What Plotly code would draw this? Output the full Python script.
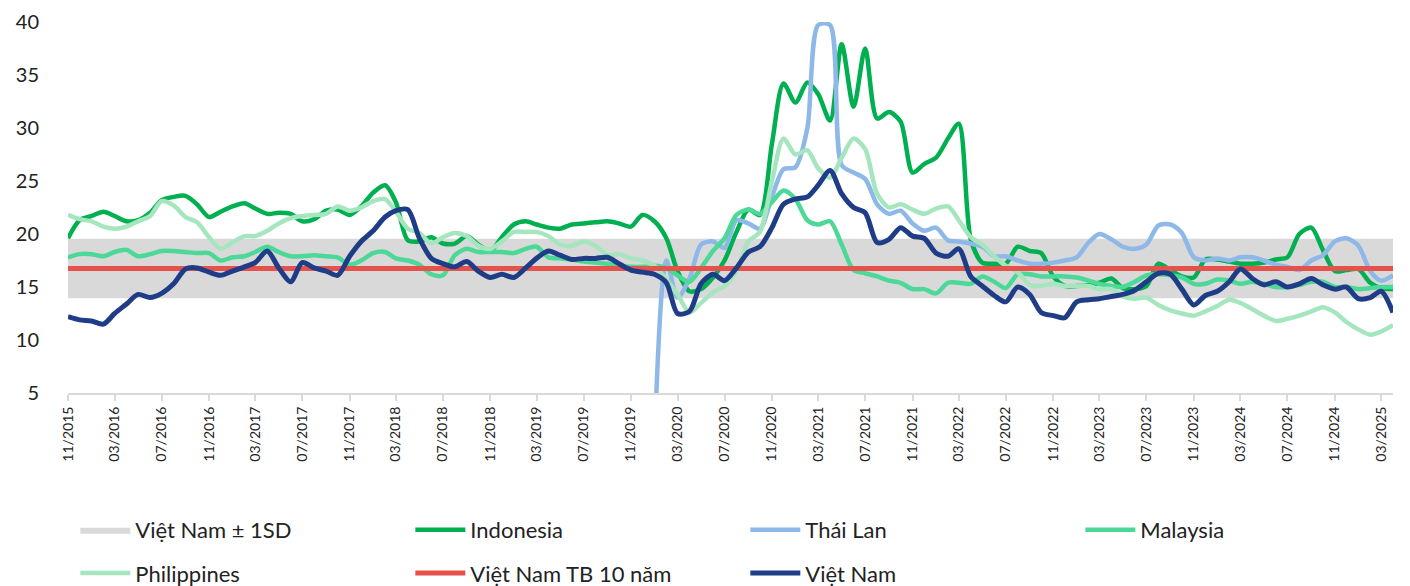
import pandas as pd
import plotly.graph_objects as go

dates = pd.date_range("2015-11-01", periods=114, freq="MS")

vietnam = [12.2, 11.9, 11.8, 11.5, 12.5, 13.4, 14.3, 14.0, 14.4, 15.3,
           16.7, 16.8, 16.4, 16.1, 16.5, 16.9, 17.3, 18.4, 16.8, 15.5,
           17.3, 16.8, 16.5, 16.1, 17.9, 19.3, 20.3, 21.6, 22.2, 22.3,
           19.6, 17.7, 17.2, 16.9, 17.4, 16.5, 15.9, 16.2, 15.9, 16.8,
           17.7, 18.4, 18.0, 17.6, 17.7, 17.7, 17.8, 17.2, 16.6, 16.4,
           16.2, 15.4, 12.5, 12.7, 15.3, 16.2, 15.6, 16.8, 18.3, 18.8,
           20.6, 22.8, 23.3, 23.5, 24.6, 26.0, 23.8, 22.5, 22.0, 19.2,
           19.5, 20.6, 19.8, 19.6, 18.2, 17.9, 18.6, 16.0, 15.1, 14.2,
           13.6, 15.0, 14.3, 12.6, 12.3, 12.1, 13.6, 13.8, 13.9, 14.1,
           14.3, 14.7, 15.5, 16.3, 16.2, 14.8, 13.3, 14.2, 14.6, 15.5,
           16.7, 15.8, 15.2, 15.5, 15.0, 15.3, 15.8, 15.2, 14.8, 15.0,
           13.9, 14.0, 14.6, 12.6]

indonesia = [19.6, 21.3, 21.7, 22.1, 21.7, 21.2, 21.3, 22.0, 23.2, 23.5,
             23.6, 22.8, 21.6, 22.1, 22.6, 22.9, 22.4, 21.9, 22.0, 21.9,
             21.2, 21.4, 22.2, 22.3, 21.8, 22.6, 23.9, 24.6, 23.0, 19.4,
             19.3, 19.7, 19.1, 19.1, 19.8, 19.0, 18.4, 19.7, 20.9, 21.2,
             20.9, 20.6, 20.5, 20.9, 21.0, 21.1, 21.2, 21.0, 20.7, 21.8,
             21.2, 19.6, 16.5, 14.6, 14.8, 15.9, 17.5, 20.2, 22.3, 21.8,
             28.5, 34.2, 32.4, 34.3, 33.2, 30.7, 37.9, 32.0, 37.5, 30.9,
             31.5, 30.6, 25.8, 26.6, 27.2, 29.0, 30.4, 19.5, 17.3, 17.2,
             17.2, 18.8, 18.4, 18.2, 16.0, 15.1, 15.1, 15.2, 15.4, 15.8,
             14.9, 14.8, 15.1, 17.2, 16.6, 16.0, 15.9, 17.6, 17.6, 17.4,
             17.2, 17.2, 17.3, 17.6, 17.8, 20.0, 20.6, 18.5, 16.5, 16.6,
             16.7, 15.4, 14.9, 14.8]

thailand = [None] * 50 + [
    0.0, 17.5, 14.0, 15.8, 19.0, 19.3, 18.7, 21.3, 21.0, 20.5,
    23.5, 26.1, 26.3, 30.0, 39.7, 39.7, 26.5, 25.8, 25.2, 22.8,
    21.9, 22.2, 21.0, 20.3, 20.6, 19.4, 19.3, 19.1, 18.8, 17.9,
    17.9, 17.5, 17.2, 17.2, 17.3, 17.5, 17.8, 19.2, 20.0, 19.5,
    18.8, 18.6, 19.0, 20.8, 20.9, 20.1, 17.8, 17.5, 17.7, 17.5,
    17.8, 17.8, 17.5, 17.1, 16.9, 16.6, 17.5, 18.0, 19.3, 19.6,
    18.9, 16.5, 15.6, 16.1]

malaysia = [17.8, 18.1, 18.1, 17.9, 18.3, 18.5, 17.9, 18.1, 18.4, 18.4,
            18.3, 18.2, 18.2, 17.5, 17.8, 17.9, 18.3, 18.8, 18.3, 17.9,
            17.9, 18.0, 17.9, 17.8, 17.1, 17.5, 18.2, 18.3, 17.7, 17.5,
            17.1, 16.2, 16.1, 18.0, 18.6, 18.3, 18.3, 18.3, 18.2, 18.6,
            18.8, 17.8, 17.7, 17.6, 17.4, 17.3, 17.2, 17.0, 16.9, 16.9,
            17.0, 16.8, 16.1, 15.5, 16.8, 18.4, 19.6, 21.8, 22.3, 21.9,
            23.0, 24.1, 23.3, 21.3, 20.9, 21.2, 19.0, 16.6, 16.3, 16.0,
            15.6, 15.4, 14.8, 14.8, 14.4, 15.4, 15.4, 15.3, 16.0, 15.5,
            14.9, 16.2, 16.2, 16.0, 16.0, 16.0, 15.9, 15.6, 15.3, 15.1,
            15.0, 15.5, 16.1, 16.2, 16.1, 15.9, 15.3, 15.3, 15.7, 15.6,
            15.3, 15.5, 15.3, 15.0, 15.0, 15.2, 15.5, 15.5, 15.0, 15.0,
            14.8, 14.9, 15.0, 15.0]

philippines = [21.8, 21.4, 21.2, 20.7, 20.5, 20.7, 21.2, 21.7, 23.1, 22.7,
               21.6, 21.1, 19.7, 18.6, 19.2, 19.8, 19.8, 20.3, 21.0, 21.5,
               21.7, 21.8, 21.9, 22.6, 22.2, 22.5, 23.1, 23.3, 22.1, 20.5,
               20.1, 19.1, 19.7, 20.1, 19.8, 18.9, 18.6, 19.3, 20.2, 20.2,
               20.2, 19.8, 19.0, 18.9, 19.3, 18.9, 18.0, 18.1, 17.7, 17.5,
               17.0, 15.7, 14.3, 12.6, 13.5, 14.5, 15.1, 16.5, 19.3, 20.2,
               25.0, 29.0, 27.5, 27.9, 26.2, 25.3, 27.2, 29.0, 28.0, 23.8,
               22.5, 22.8, 22.3, 21.9, 22.4, 22.6, 21.3, 19.7, 19.0, 17.9,
               17.0, 16.4, 15.2, 15.1, 15.3, 15.1, 15.1, 15.1, 14.8, 14.8,
               14.1, 13.9, 14.0, 13.3, 12.8, 12.5, 12.3, 12.7, 13.2, 13.8,
               13.5, 12.9, 12.3, 11.8, 12.0, 12.3, 12.7, 13.1, 12.6, 11.7,
               11.0, 10.5, 10.8, 11.4]

vn_mean_10y = 16.75
vn_sd = 2.8

tick_dates = dates[::4]
tick_labels = [d.strftime("%m/%Y") for d in tick_dates]

FONT = "Lato"
TXT = "#222222"
fig = go.Figure()

n = len(dates)
fig.add_trace(go.Scatter(x=dates, y=[vn_mean_10y - vn_sd] * n, mode="lines",
                         line=dict(width=0, color="#D9D9D9"), showlegend=False,
                         hoverinfo="skip"))
fig.add_trace(go.Scatter(x=dates, y=[vn_mean_10y + vn_sd] * n, mode="lines",
                         line=dict(width=0, color="#D9D9D9"), fill="tonexty",
                         fillcolor="#D9D9D9", name="Việt Nam ± 1SD",
                         legend="legend"))

series = [
    ("Indonesia", indonesia, "#00B050", "legend"),
    ("Thái Lan", thailand, "#8DB8E8", "legend"),
    ("Malaysia", malaysia, "#4CD897", "legend"),
    ("Philippines", philippines, "#A6E6BF", "legend2"),
]
for name, vals, color, lg in series:
    fig.add_trace(go.Scatter(x=dates, y=vals, mode="lines", name=name,
                             legend=lg,
                             line=dict(color=color, width=4.5, shape="spline",
                                       smoothing=0.8)))

fig.add_trace(go.Scatter(x=dates, y=[vn_mean_10y] * n, mode="lines",
                         name="Việt Nam TB 10 năm", legend="legend2",
                         line=dict(color="#E5524C", width=5)))
fig.add_trace(go.Scatter(x=dates, y=vietnam, mode="lines", name="Việt Nam",
                         legend="legend2",
                         line=dict(color="#1F3D87", width=5, shape="spline",
                                   smoothing=0.8)))

legend_common = dict(orientation="h", xanchor="left", yanchor="middle",
                     entrywidth=270, entrywidthmode="pixels",
                     font=dict(size=22, family=FONT, color=TXT),
                     traceorder="normal", itemwidth=50,
                     bgcolor="rgba(0,0,0,0)",
                     bordercolor="rgba(0,0,0,0)", borderwidth=8)

# page body has an 8px margin: size the figure so it ends at the window edge
fig.update_layout(
    width=1402, height=578,
    margin=dict(l=60, r=17, t=14, b=193, autoexpand=False),
    paper_bgcolor="white", plot_bgcolor="white",
    font=dict(family=FONT, color=TXT),
    showlegend=True,
    legend=dict(x=-0.0005, y=-0.369, **legend_common),
    legend2=dict(x=-0.0005, y=-0.486, **legend_common),
    xaxis=dict(type="date", range=[dates[0], dates[-1]],
               tickmode="array", tickvals=tick_dates, ticktext=tick_labels,
               tickangle=-90, ticks="outside", ticklen=6,
               tickcolor="#D9D9D9", tickwidth=2,
               showline=True, linecolor="#D9D9D9", linewidth=2,
               showgrid=False, zeroline=False, automargin=False,
               ticklabeloverflow="allow",
               tickfont=dict(size=14, family=FONT, color=TXT)),
    yaxis=dict(range=[5, 40], tickmode="linear", tick0=5, dtick=5,
               showgrid=False, zeroline=False, showline=False, ticks="",
               ticklabelstandoff=28, automargin=False,
               ticklabeloverflow="allow",
               tickfont=dict(size=20, family=FONT, color=TXT)),
)

fig.write_html("out.html")
